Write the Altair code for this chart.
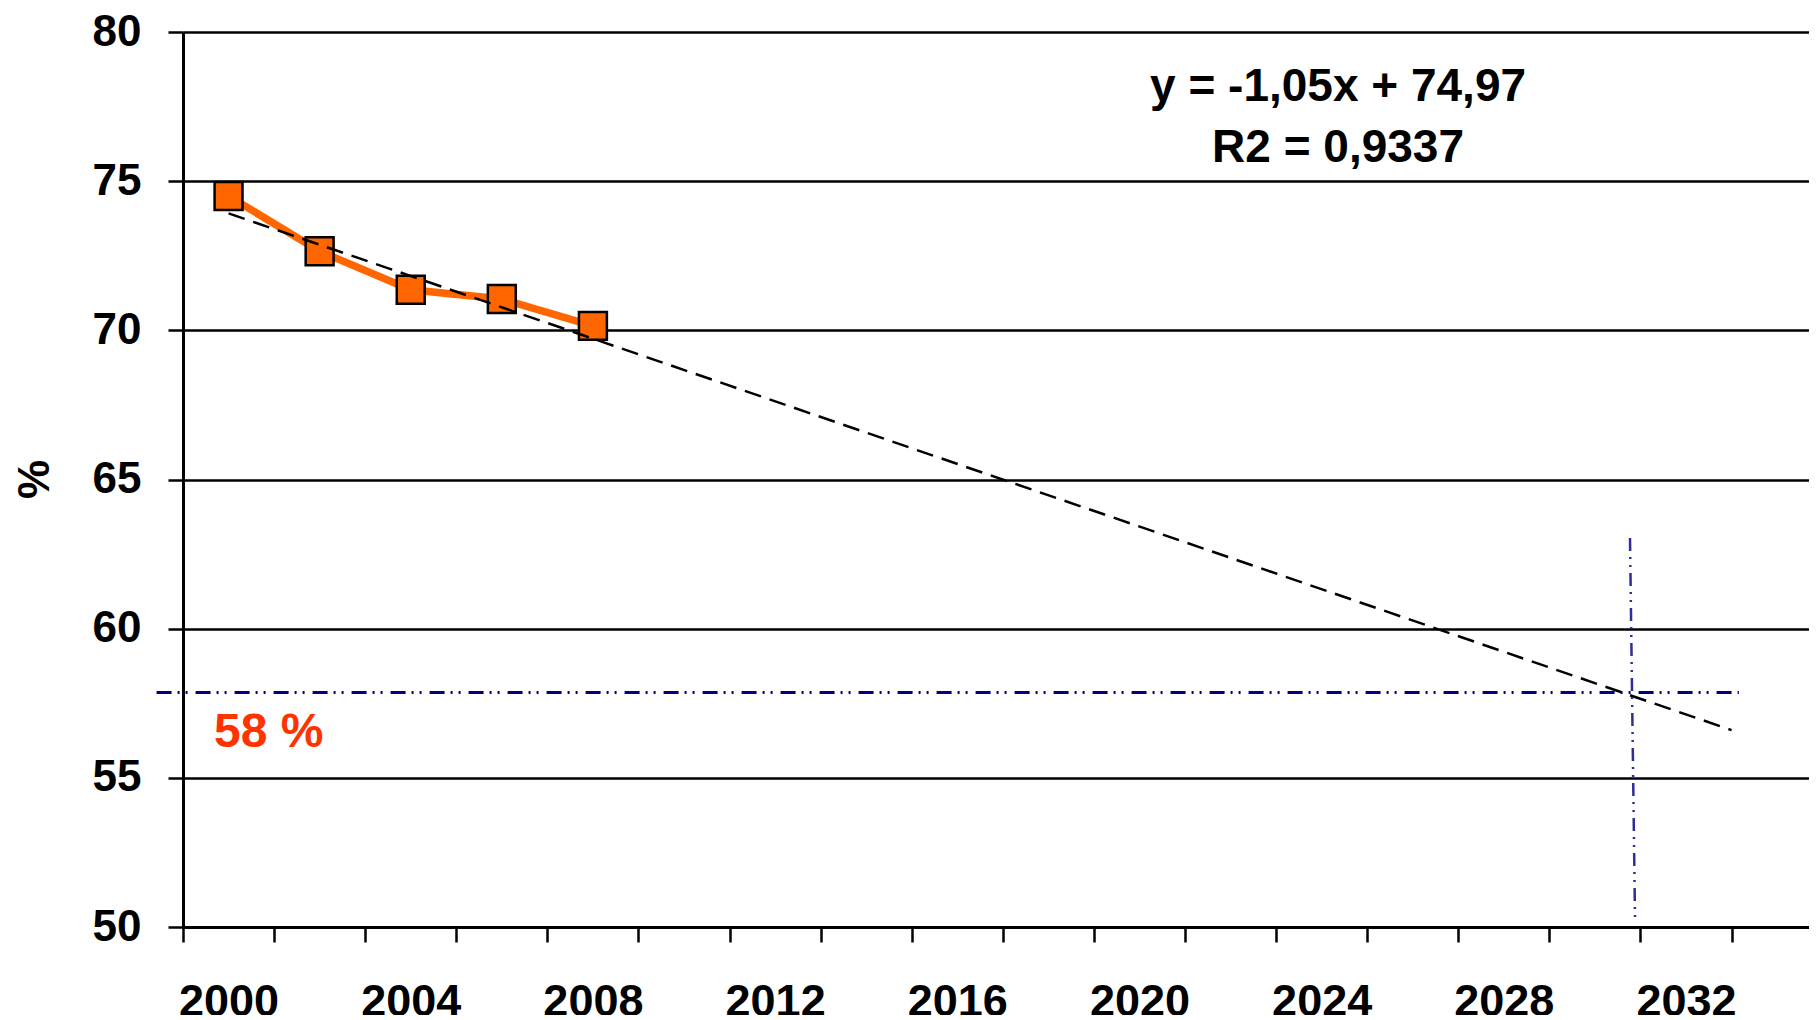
import altair as alt
import pandas as pd

# ---- data ----
years = [2000, 2002, 2004, 2006, 2008]
values = [74.5, 72.65, 71.36, 71.05, 70.15]

trend_years = [2000, 2033]
trend_values = [73.92, 56.6]

target_x = [1998.42, 2033.16]
target_y = [57.86, 57.86]

cross_x = [2030.77, 2030.88]
cross_y = [63.04, 50.3]

eq_lines = ["y = -1,05x + 74,97", "R2 = 0,9337"]
eq_x = [2024.36, 2024.36]
eq_y = [78.17, 76.12]

label_text = ["58 %"]
label_x = [1999.68]
label_y = [56.04]

y_ticks = [50, 55, 60, 65, 70, 75, 80]
x_tick_years = list(range(1999, 2034))

FONT = "Liberation Sans"
W, H = 1626, 895

xscale = alt.Scale(domain=[1999, 2034.7], nice=False, zero=False)
yscale = alt.Scale(domain=[50, 80], nice=False, zero=False)

xaxis = alt.Axis(
    values=x_tick_years,
    format="d",
    labelExpr="(datum.value - 2000) % 4 == 0 ? datum.label : ''",
    labelOverlap=False,
    labelFlush=False,
    labelFont=FONT,
    labelFontSize=45,
    labelFontWeight="bold",
    labelColor="black",
    labelPadding=37,
    tickSize=15,
    tickWidth=2.5,
    tickColor="black",
    tickOpacity={"condition": {"test": "datum.value % 2 == 0", "value": 0}, "value": 1},
    domainColor="black",
    domainWidth=3,
    grid=False,
    title=None,
)

yaxis = alt.Axis(
    values=y_ticks,
    labelFont=FONT,
    labelFontSize=44,
    labelFontWeight="bold",
    labelColor="black",
    labelPadding=27,
    tickSize=15,
    tickWidth=2.5,
    tickColor="black",
    domainColor="black",
    domainWidth=3,
    grid=True,
    gridColor="black",
    gridWidth=2.5,
    gridOpacity=1,
    title="%",
    titleFont=FONT,
    titleFontSize=44,
    titleFontWeight="bold",
    titleColor="black",
    titleAngle=270,
    titleAlign="center",
    titleBaseline="middle",
    titleX=-148,
    titleY=447,
)

df = pd.DataFrame({"year": years, "value": values})
trend_df = pd.DataFrame({"year": trend_years, "value": trend_values})
target_df = pd.DataFrame({"x": [target_x[0]], "x2": [target_x[1]], "y": [target_y[0]]})
cross_df = pd.DataFrame({"x": [cross_x[0]], "x2": [cross_x[1]], "y": [cross_y[0]], "y2": [cross_y[1]]})
eq_df = pd.DataFrame({"x": eq_x, "y": eq_y, "t": eq_lines})
lab_df = pd.DataFrame({"x": label_x, "y": label_y, "t": label_text})

base_x = alt.X("year:Q", scale=xscale, axis=xaxis)
base_y = alt.Y("value:Q", scale=yscale, axis=yaxis)

line = alt.Chart(df).mark_line(color="#FF6600", strokeWidth=7.5).encode(x=base_x, y=base_y)

points = alt.Chart(df).mark_point(
    shape="square", size=780, filled=True, fill="#FF6600", stroke="black",
    strokeWidth=2.5, opacity=1
).encode(x=alt.X("year:Q", scale=xscale), y=alt.Y("value:Q", scale=yscale))

trend = alt.Chart(trend_df).mark_line(
    color="black", strokeWidth=2.5, strokeDash=[17, 9]
).encode(x=alt.X("year:Q", scale=xscale), y=alt.Y("value:Q", scale=yscale))

target = alt.Chart(target_df).mark_rule(
    color="#000080", strokeWidth=3, strokeDash=[15, 6, 2, 6, 2, 8]
).encode(x=alt.X("x:Q", scale=xscale), x2="x2:Q", y=alt.Y("y:Q", scale=yscale))

cross = alt.Chart(cross_df).mark_rule(
    color="#2E2E9A", strokeWidth=2.5, strokeDash=[13, 6, 2, 6, 2, 6]
).encode(x=alt.X("x:Q", scale=xscale), x2="x2:Q",
         y=alt.Y("y:Q", scale=yscale), y2="y2:Q")

eq = alt.Chart(eq_df).mark_text(
    font=FONT, fontSize=46, fontWeight="bold", color="black",
    align="center", baseline="middle"
).encode(x=alt.X("x:Q", scale=xscale), y=alt.Y("y:Q", scale=yscale), text="t:N")

lab = alt.Chart(lab_df).mark_text(
    font=FONT, fontSize=48, fontWeight="bold", color="#FF3300",
    align="left", baseline="alphabetic"
).encode(x=alt.X("x:Q", scale=xscale), y=alt.Y("y:Q", scale=yscale), text="t:N")

chart = alt.layer(line, points, trend, target, cross, eq, lab).properties(
    width=W, height=H,
    autosize=alt.AutoSizeParams(type="none"),
    padding={"left": 175, "top": 24, "right": 0, "bottom": 88},
).configure_view(stroke=None).configure(background="white")

chart.save("out.html", embed_options={"renderer": "svg", "actions": False})
